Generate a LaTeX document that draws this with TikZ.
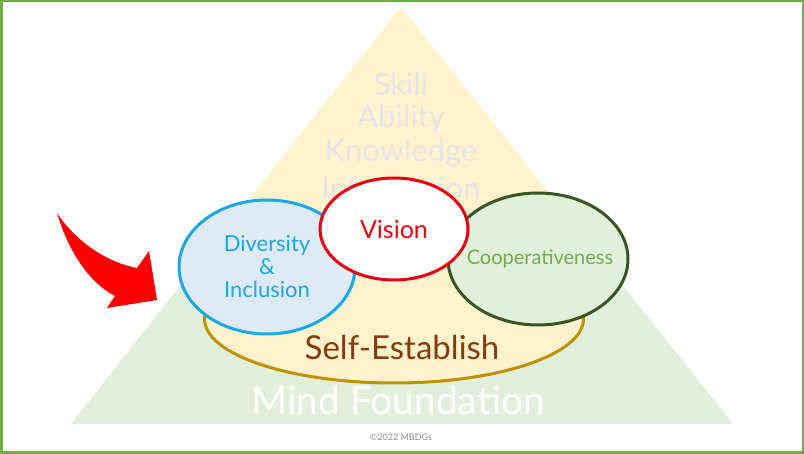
\documentclass[tikz,border=0pt]{standalone}
\usepackage{fontspec}
\setmainfont{Lato}
\usetikzlibrary{positioning,calc,shapes.geometric}
\definecolor{FrameGreen}{HTML}{70AD47}
\definecolor{PyraYellow}{HTML}{FFF2CC}
\definecolor{PyraGreen}{HTML}{E2EFDA}
\definecolor{WordGrey}{HTML}{E6E4E8}
\definecolor{SelfGold}{HTML}{BF9000}
\definecolor{SelfBrown}{HTML}{843C0C}
\definecolor{DivBlue}{HTML}{1AA7E6}
\definecolor{DivFill}{HTML}{DEEBF7}
\definecolor{VisionRed}{HTML}{E60012}
\definecolor{CoopDark}{HTML}{375623}
\definecolor{CoopText}{HTML}{70AD47}
\definecolor{NoteGrey}{HTML}{8C8C8C}

\begin{document}
\begin{tikzpicture}[x=1pt,y=-1pt,every node/.style={inner sep=0pt},
    ring/.style={ellipse, line width=3pt}]
  \useasboundingbox (0,0) rectangle (804,454);
  % pyramid
  \coordinate (apex) at (401,7);
  \coordinate (bl) at (71,424);
  \coordinate (br) at (733,424);
  \fill[PyraYellow] (apex) -- (bl) -- (br) -- cycle;
  \fill[PyraGreen] ($(apex)!0.655!(bl)$) -- (bl) -- (br) -- ($(apex)!0.655!(br)$) -- cycle;
  \foreach \w/\i in {Skill/0, Ability/1, Knowledge/2, Information/3}{
    \pgfmathsetmacro\yy{84 + \i*34.6}
    \node[text=WordGrey, font=\fontsize{31}{32}\selectfont] (w\i) at (401,\yy) {\w};
  }
  \node[text=white, font=\fontsize{39}{40}\selectfont] (mind) at (398,400) {Mind Foundation};
  % circles
  \node[ring, draw=SelfGold, fill=PyraYellow, minimum width=379pt, minimum height=128pt] (self) at (394,319) {};
  \node[text=SelfBrown, font=\fontsize{33}{34}\selectfont] (selflbl) at (402,347) {Self-Establish};
  \node[ring, draw=DivBlue, fill=DivFill, minimum width=176pt, minimum height=134pt,
    text=DivBlue, align=center, font=\fontsize{22}{23}\selectfont] (div) at (267,267)
    {Diversity\\\&\\Inclusion};
  \node[ring, draw=CoopDark, fill=PyraGreen, minimum width=180pt, minimum height=132pt] (coop) at (538,259) {};
  \node[text=CoopText, font=\fontsize{20}{21}\selectfont] (cooplbl) at (540,259) {Cooperativeness};
  \node[ring, draw=VisionRed, fill=white, minimum width=148pt, minimum height=102pt,
    text=VisionRed, font=\fontsize{25}{26}\selectfont] (vision) at (394,229) {Vision};
  % red arrow
  \fill[red] (57,213) .. controls (75,240) and (105,262) .. (137,268) -- (149,251)
    -- (157,300) -- (107,308) -- (115,296) .. controls (88,282) and (68,250) .. cycle;
  \node[text=NoteGrey, font=\fontsize{9}{10}\selectfont] (note) at (401,437) {©2022 MBDGs};
  \draw[FrameGreen, line width=2.5pt] (1.25,1.25) rectangle (802.75,452.75);
\end{tikzpicture}
\end{document}
